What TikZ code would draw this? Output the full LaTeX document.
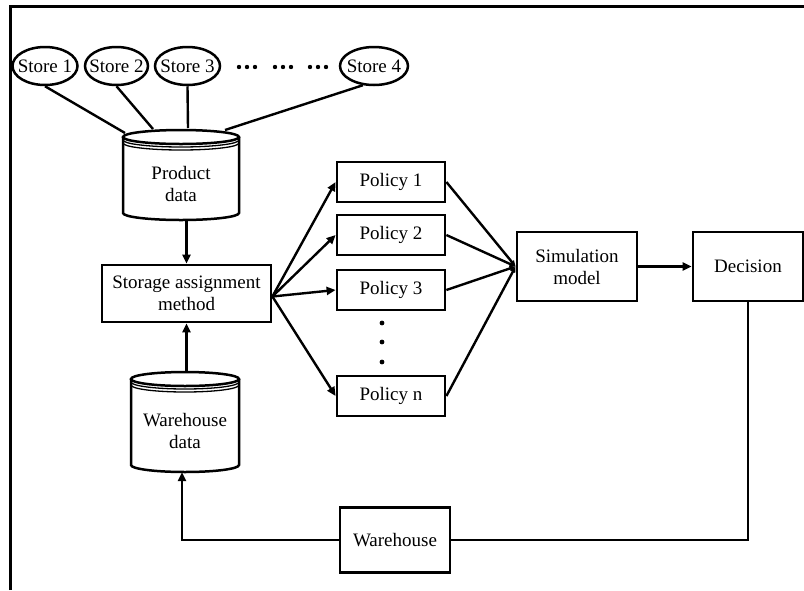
\documentclass[tikz,border=0pt]{standalone}
\usepackage{fontspec}
\setmainfont{Liberation Serif}
\usetikzlibrary{calc,arrows.meta,shapes.geometric}
\begin{document}
\begin{tikzpicture}[x=1pt,y=-1pt,
  every node/.style={font=\fontsize{19}{22}\selectfont, align=center, inner sep=0pt},
  box/.style={draw, line width=2.8pt},
  store/.style={draw, ellipse, line width=2.5pt, minimum height=38pt},
  conn/.style={line width=2.4pt},
  arr/.style={conn, -{Triangle[length=9pt,width=8pt]}},
  cyl/.style={line width=2.5pt},
  pics/dbcyl/.style 2 args={code={
    \draw[cyl] (-#1,7) -- (-#1,#2) arc[start angle=180,end angle=0,x radius=#1,y radius=7] -- (#1,7);
    \draw[cyl] (0,7) ellipse[x radius=#1,y radius=7];
    \draw[line width=1.3pt] (-#1,10) arc[start angle=180,end angle=0,x radius=#1,y radius=7];
    \draw[line width=1.3pt] (-#1,13) arc[start angle=180,end angle=0,x radius=#1,y radius=7];
    \coordinate (-top) at (0,0);
    \coordinate (-bot) at (0,#2+7);
  }}
]
\useasboundingbox (0,0) rectangle (804,590);
\draw[line width=2.8pt] (10.5,590) -- (10.5,6.5) -- (804,6.5);

% stores
\node[store, minimum width=65pt] (s1) at (45,66) {\makebox[0pt]{Store 1}};
\node[store, minimum width=63pt] (s2) at (116.5,66) {\makebox[0pt]{Store 2}};
\node[store, minimum width=65pt] (s3) at (187.5,66) {\makebox[0pt]{Store 3}};
\node[store, minimum width=68pt] (s4) at (374,66) {\makebox[0pt]{Store 4}};
\foreach \gx in {239,275,310}{
  \foreach \dx in {0,8,16}{
    \fill (\gx+\dx,67) circle (2.2pt);
  }
}

% product data
\pic (P) at (181,130) {dbcyl={58}{83}};
\node (prod) at (181,184) {Product\\data};
\draw[conn] (s1.south) -- ($(P-top)+(-56,3)$);
\draw[conn] (s2.south) -- ($(P-top)+(-28,-1)$);
\draw[conn] (s3.south) -- ($(P-top)+(7,-2)$);
\draw[conn] (s4.240) -- ($(P-top)+(44,0)$);

% storage assignment
\node[box, minimum width=169pt, minimum height=57pt] (stor) at (186.5,293.5) {Storage assignment\\method};
\draw[arr] (P-bot -| stor.north) -- (stor.north);

% warehouse data
\pic (W) at (185,372) {dbcyl={54}{93}};
\node (wdata) at (185,431) {Warehouse\\data};
\draw[arr] (W-top -| stor.south) -- (stor.south);

% policies
\node[box, minimum width=108pt, minimum height=40pt] (p1) at (391,182) {Policy 1};
\node[box, minimum width=108pt, minimum height=40pt] (p2) at (391,235) {Policy 2};
\node[box, minimum width=108pt, minimum height=40pt] (p3) at (391,290) {Policy 3};
\node[box, minimum width=108pt, minimum height=40pt] (pn) at (391,396) {Policy n};
\foreach \dy in {323,342,362}{ \fill (382,\dy) circle (2.4pt); }

\foreach \p in {p1,p2,p3,pn}{
  \draw[arr] ($(stor.east)+(0,3)$) -- (\p.west);
}

% simulation, decision
\node[box, minimum width=120pt, minimum height=69pt] (sim) at (577,266.5) {Simulation\\model};
\node[box, minimum width=110pt, minimum height=69pt] (dec) at (748,266.5) {Decision};
\foreach \p in {p1,p2,p3,pn}{
  \draw[conn, -{Triangle[length=6pt,width=5pt]}] (\p.east) -- (sim.west);
}
\draw[arr] (sim.east) -- (dec.west);

% warehouse feedback
\node[box, minimum width=110pt, minimum height=65pt] (wh) at (395,540) {Warehouse};
\draw[conn] (dec.south) |- (wh.east);
\draw[arr] (wh.west) -| ($(W-bot)+(-3,0)$);
\end{tikzpicture}
\end{document}
